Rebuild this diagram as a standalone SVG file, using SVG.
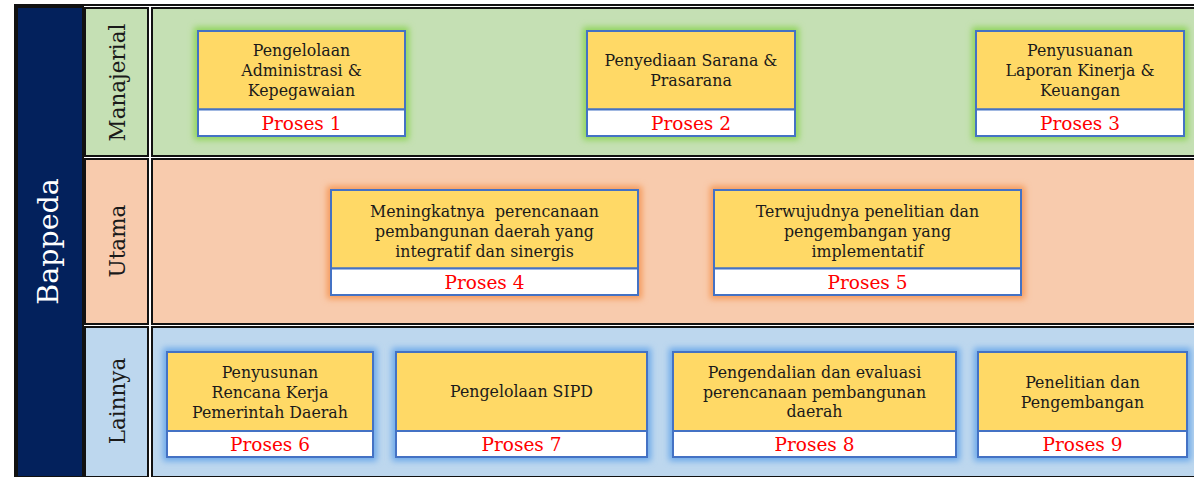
<svg xmlns="http://www.w3.org/2000/svg" width="1194" height="477" viewBox="0 0 1194 477">
<defs>
<style>
.cell{stroke:#111;stroke-width:2}
.lbl{font-family:"DejaVu Serif","Liberation Serif",serif;font-size:21.5px;fill:#1a1a1a;text-anchor:middle}
.title{font-family:"DejaVu Serif","Liberation Serif",serif;font-size:28.5px;fill:#ffffff;text-anchor:middle}
.top{fill:#ffd966;stroke:#4472c4;stroke-width:2}
.bot{fill:#ffffff;stroke:#4472c4;stroke-width:2}
.t{font-family:"DejaVu Serif","Liberation Serif",serif;font-size:15.8px;fill:#1a1a1a;text-anchor:middle}
.p{font-family:"DejaVu Serif","Liberation Serif",serif;font-size:18.5px;fill:#ff0000;text-anchor:middle}
.gg{fill:#8fd45a;filter:url(#blur)}
.go{fill:#f59a5a;filter:url(#blur)}
.gb{fill:#6aa8ea;filter:url(#blur)}
</style>
<filter id="blur" x="-20%" y="-20%" width="140%" height="140%"><feGaussianBlur stdDeviation="3"/></filter>
</defs>
<rect x="0" y="0" width="1194" height="477" fill="#ffffff"/>
<rect x="15" y="5" width="1200" height="490" fill="none" stroke="#111" stroke-width="2"/>
<g id="bappeda">
<rect class="cell" x="17" y="7" width="66" height="470" fill="#03215c"/>
<text class="title" transform="translate(58,241.5) rotate(-90)">Bappeda</text>
</g>
<g id="lane-manajerial">
<rect class="cell" x="85" y="8" width="63" height="148" fill="#c5e0b4"/>
<rect class="cell" x="152" y="8" width="1100" height="148" fill="#c5e0b4"/>
<text class="lbl" transform="translate(124.5,82.5) rotate(-90)">Manajerial</text>
</g>
<g id="lane-utama">
<rect class="cell" x="85" y="159" width="63" height="165" fill="#f8cbad"/>
<rect class="cell" x="152" y="159" width="1100" height="165" fill="#f8cbad"/>
<text class="lbl" transform="translate(124.5,241) rotate(-90)">Utama</text>
</g>
<g id="lane-lainnya">
<rect class="cell" x="85" y="327" width="63" height="150" fill="#bdd7ee"/>
<rect class="cell" x="152" y="327" width="1100" height="150" fill="#bdd7ee"/>
<text class="lbl" transform="translate(124.5,401) rotate(-90)">Lainnya</text>
</g>
<g id="connectors"></g>
<g id="proses1">
<rect class="gg" x="194" y="27" width="215" height="113"/>
<rect class="top" x="198" y="31" width="207" height="78.5"/>
<rect class="bot" x="198" y="109.5" width="207" height="26.5"/>
<text class="t" x="301.5" y="56">Pengelolaan</text>
<text class="t" x="301.5" y="76">Administrasi &amp;</text>
<text class="t" x="301.5" y="96">Kepegawaian</text>
<text class="p" x="301.5" y="130">Proses 1</text>
</g>
<g id="proses2">
<rect class="gg" x="583" y="27" width="216" height="113"/>
<rect class="top" x="587" y="31" width="208" height="78.5"/>
<rect class="bot" x="587" y="109.5" width="208" height="26.5"/>
<text class="t" x="691" y="66">Penyediaan Sarana &amp;</text>
<text class="t" x="691" y="86">Prasarana</text>
<text class="p" x="691" y="130">Proses 2</text>
</g>
<g id="proses3">
<rect class="gg" x="972" y="27" width="216" height="113"/>
<rect class="top" x="976" y="31" width="208" height="78.5"/>
<rect class="bot" x="976" y="109.5" width="208" height="26.5"/>
<text class="t" x="1080" y="56">Penyusuanan</text>
<text class="t" x="1080" y="76">Laporan Kinerja &amp;</text>
<text class="t" x="1080" y="96">Keuangan</text>
<text class="p" x="1080" y="130">Proses 3</text>
</g>
<g id="proses4">
<rect class="go" x="327" y="186" width="315" height="113"/>
<rect class="top" x="331" y="190" width="307" height="78.5"/>
<rect class="bot" x="331" y="268.5" width="307" height="26.5"/>
<text class="t" x="484.5" y="216.5" xml:space="preserve">Meningkatnya  perencanaan</text>
<text class="t" x="484.5" y="236.5">pembangunan daerah yang</text>
<text class="t" x="484.5" y="256.5">integratif dan sinergis</text>
<text class="p" x="484.5" y="289">Proses 4</text>
</g>
<g id="proses5">
<rect class="go" x="710" y="186" width="315" height="113"/>
<rect class="top" x="714" y="190" width="307" height="78.5"/>
<rect class="bot" x="714" y="268.5" width="307" height="26.5"/>
<text class="t" x="867.5" y="216.5">Terwujudnya penelitian dan</text>
<text class="t" x="867.5" y="236.5">pengembangan yang</text>
<text class="t" x="867.5" y="256.5">implementatif</text>
<text class="p" x="867.5" y="289">Proses 5</text>
</g>
<g id="proses6">
<rect class="gb" x="163" y="348" width="214" height="113"/>
<rect class="top" x="167" y="352" width="206" height="79"/>
<rect class="bot" x="167" y="431" width="206" height="26"/>
<text class="t" x="270" y="378">Penyusunan</text>
<text class="t" x="270" y="398">Rencana Kerja</text>
<text class="t" x="270" y="417.5">Pemerintah Daerah</text>
<text class="p" x="270" y="451">Proses 6</text>
</g>
<g id="proses7">
<rect class="gb" x="392" y="348" width="259" height="113"/>
<rect class="top" x="396" y="352" width="251" height="79"/>
<rect class="bot" x="396" y="431" width="251" height="26"/>
<text class="t" x="521.5" y="397">Pengelolaan SIPD</text>
<text class="p" x="521.5" y="451">Proses 7</text>
</g>
<g id="proses8">
<rect class="gb" x="669" y="348" width="291" height="113"/>
<rect class="top" x="673" y="352" width="283" height="79"/>
<rect class="bot" x="673" y="431" width="283" height="26"/>
<text class="t" x="814.5" y="378">Pengendalian dan evaluasi</text>
<text class="t" x="814.5" y="397.5">perencanaan pembangunan</text>
<text class="t" x="814.5" y="417">daerah</text>
<text class="p" x="814.5" y="451">Proses 8</text>
</g>
<g id="proses9">
<rect class="gb" x="974" y="348" width="217" height="113"/>
<rect class="top" x="978" y="352" width="209" height="79"/>
<rect class="bot" x="978" y="431" width="209" height="26"/>
<text class="t" x="1082.5" y="388">Penelitian dan</text>
<text class="t" x="1082.5" y="407.5">Pengembangan</text>
<text class="p" x="1082.5" y="451">Proses 9</text>
</g>
</svg>
